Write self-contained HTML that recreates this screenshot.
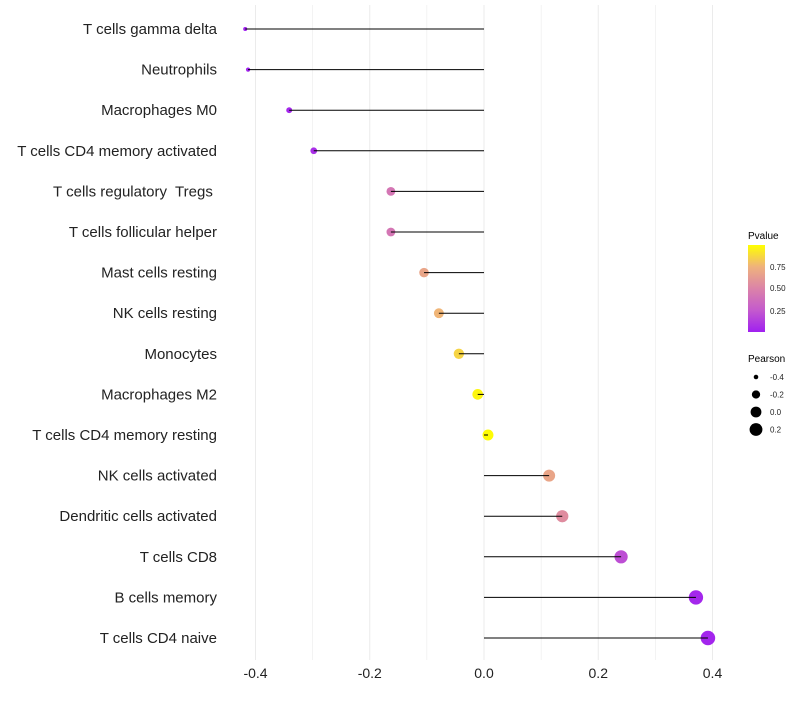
<!DOCTYPE html>
<html><head><meta charset="utf-8"><style>
body{margin:0;background:#fff;font-family:"Liberation Sans",sans-serif}
text{white-space:pre}
</style></head><body>
<svg id="chart" width="800" height="700" xmlns="http://www.w3.org/2000/svg">
<defs><linearGradient id="pg" x1="0" y1="1" x2="0" y2="0">
<stop offset="0" stop-color="#a020f0"/><stop offset="0.25" stop-color="#c45acd"/><stop offset="0.5" stop-color="#db83a8"/><stop offset="0.75" stop-color="#efb27c"/><stop offset="1" stop-color="#ffff00"/>
</linearGradient></defs>
<g id="grid"></g><g id="marks"></g><g id="labels"></g>
<g font-size="10">
<text x="748" y="239" fill="#000">Pvalue</text>
<rect x="748" y="245" width="17" height="87" fill="url(#pg)"/>
<g font-size="8" fill="#222"><text x="770" y="270">0.75</text><text x="770" y="291">0.50</text><text x="770" y="314">0.25</text></g>
<text x="748" y="362" fill="#000">Pearson</text>
<g id="sizeleg" font-size="8" fill="#222"></g>
</g>
</svg>
<script>
const cats=["T cells gamma delta","Neutrophils","Macrophages M0","T cells CD4 memory activated","T cells regulatory  Tregs ","T cells follicular helper","Mast cells resting","NK cells resting","Monocytes","Macrophages M2","T cells CD4 memory resting","NK cells activated","Dendritic cells activated","T cells CD8","B cells memory","T cells CD4 naive"];
const pearson=[-0.418,-0.413,-0.341,-0.298,-0.163,-0.163,-0.105,-0.079,-0.044,-0.011,0.007,0.114,0.137,0.240,0.371,0.392];
const pvals=[0.0,0.01,0.03,0.06,0.42,0.42,0.68,0.76,0.86,0.97,0.99,0.68,0.55,0.2,0.03,0.02];
const xticks=[-0.4,-0.2,0.0,0.2,0.4];
const xtickLabels=["-0.4","-0.2","0.0","0.2","0.4"];
const sizeLegVals=[-0.4,-0.2,0.0,0.2];
const ns="http://www.w3.org/2000/svg";
const X=v=>484+v*571.25;
const Y=i=>29+i*(609/15);
const R=v=>Math.sqrt(4+60*Math.max(0,v+0.42));
const stops=[[0,[160,32,240]],[0.25,[196,90,205]],[0.5,[219,131,168]],[0.75,[239,178,124]],[1,[255,255,0]]];
function col(p){for(let k=1;k<stops.length;k++){if(p<=stops[k][0]){const a=stops[k-1],b=stops[k],t=(p-a[0])/(b[0]-a[0]);return "rgb("+a[1].map((c,j)=>Math.round(c+(b[1][j]-c)*t)).join(",")+")";}}return "rgb(255,255,0)";}
function mk(t,a,p){const e=document.createElementNS(ns,t);for(const k in a)e.setAttribute(k,a[k]);p.appendChild(e);return e;}
const grid=document.getElementById("grid"),marks=document.getElementById("marks"),labels=document.getElementById("labels");
for(let v=-0.4;v<=0.41;v+=0.1){const l=mk("line",{x1:X(v),x2:X(v),y1:5,y2:660,stroke:"#ebebeb","stroke-width":Math.abs(Math.round(v*10))%2==0?1:0.6},grid);

}
xticks.forEach((v,i)=>{const t=mk("text",{x:X(v),y:678,"text-anchor":"middle","font-size":14,fill:"#222"},labels);t.textContent=xtickLabels[i];

});
cats.forEach((c,i)=>{const y=Y(i);
const t=mk("text",{x:217,y:y+5,"text-anchor":"end","font-size":15,fill:"#222"},labels);t.textContent=c;


const d=mk("circle",{cx:X(pearson[i]),cy:y,r:R(pearson[i]),fill:col(pvals[i])},marks);


const l2=mk("line",{x1:X(0),x2:X(pearson[i]),y1:y,y2:y,stroke:"#000","stroke-width":1},marks);

});
const sl=document.getElementById("sizeleg");
sizeLegVals.forEach((v,i)=>{const y=377+i*17.5;
const c=mk("circle",{cx:756,cy:y,r:R(v),fill:"#000"},sl);


const t=mk("text",{x:770,y:y+3},sl);t.textContent=v.toFixed(1);

});
</script>
</body></html>
